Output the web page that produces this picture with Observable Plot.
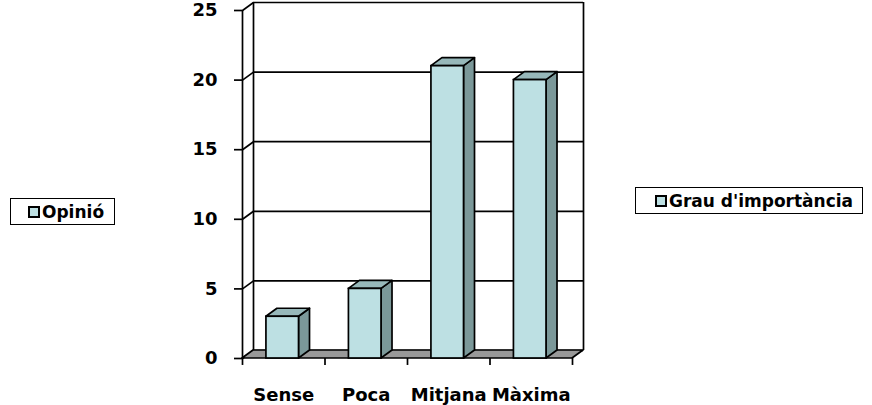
<!DOCTYPE html>
<html>
<head>
<meta charset="utf-8">
<script src="https://cdn.jsdelivr.net/npm/d3@7"></script>
<script src="https://cdn.jsdelivr.net/npm/@observablehq/plot@0.6"></script>
<style>
  html, body { margin: 0; padding: 0; background: #fff; }
  #wrap { position: relative; width: 872px; height: 405px; font-family: "DejaVu Sans", Verdana, sans-serif; }
  .legend { position: absolute; border: 1px solid #000; background: #fff; font-weight: bold; font-size: 17px;
            display: flex; align-items: center; box-sizing: border-box; white-space: nowrap; }
  .legend .sw { width: 8px; height: 8px; border: 2px solid #000; background: #bde0e3; margin-right: 2px; }
</style>
</head>
<body>
<div id="wrap"></div>
<script>
// ---- data ----
const categories = ["Sense", "Poca", "Mitjana", "Màxima"];
const values = [3, 5, 21, 20];
const yTicks = [0, 5, 10, 15, 20, 25];
const seriesName = "Grau d'importància";
const legendLeft = "Opinió";

// ---- 3D geometry (in data units) ----
const unitPx = 82.5;              // px per category
const pxPerY = 348 / 25;          // px per y unit
const dX = 11 / unitPx;           // depth offset x
const dY = 8 / pxPerY;            // depth offset y
const bL = -0.21, bR = 0.185;     // bar front face extent around category index

const bars = categories.map((c, i) => ({c, i, v: values[i], x1: i + bL, x2: i + bR}));
const sides = bars.flatMap(b => [
  {c: b.c, x: b.x2, y1: 0, y2: b.v},
  {c: b.c, x: b.x2 + dX, y1: dY, y2: b.v + dY}
]);
const tops = bars.flatMap(b => [
  {c: b.c, y: b.v, x1: b.x1, x2: b.x2},
  {c: b.c, y: b.v + dY, x1: b.x1 + dX, x2: b.x2 + dX}
]);
const floor = [
  {y: 0, x1: -0.5, x2: 3.5},
  {y: dY, x1: -0.5 + dX, x2: 3.5 + dX}
];
const xBounds = d3.range(categories.length + 1).map(k => k - 0.5);

const cFront = "#bde0e3", cTop = "#97b8ba", cSide = "#7b9899", cFloor = "#999999";
const sw = 1.7;

const chart = Plot.plot({
  width: 872,
  height: 405,
  marginLeft: 242,
  marginRight: 300,
  marginTop: 10,
  marginBottom: 47,
  x: {type: "linear", domain: [-0.5, 3.5], axis: null},
  y: {type: "linear", domain: [0, 25], axis: null},
  style: {fontFamily: "DejaVu Sans, Verdana, sans-serif", fontWeight: "bold", fontSize: "18px", color: "#000", background: "#fff"},
  marks: [
    // back wall gridlines
    Plot.ruleY(yTicks, {y: d => d + dY, x1: -0.5 + dX, x2: 3.5 + dX, stroke: "#000", strokeWidth: sw}),
    // back wall edges
    Plot.ruleX([-0.5 + dX, 3.5 + dX], {x: d => d, y1: dY, y2: 25 + dY, stroke: "#000", strokeWidth: sw}),
    // left wall diagonals
    Plot.link(yTicks, {x1: -0.5, y1: d => d, x2: -0.5 + dX, y2: d => d + dY, stroke: "#000", strokeWidth: sw}),
    // front axis line
    Plot.ruleX([-0.5], {y1: 0, y2: 25, stroke: "#000", strokeWidth: sw}),
    // y ticks
    Plot.ruleY(yTicks, {y: d => d, x1: -0.5 - 8 / unitPx, x2: -0.5, stroke: "#000", strokeWidth: sw}),
    // y labels
    Plot.text(yTicks, {x: -0.5, y: d => d, text: d => String(d), dx: -25, textAnchor: "end", fontSize: 18, fontWeight: "bold", fill: "#000"}),
    // floor
    Plot.areaX(floor, {y: "y", x1: "x1", x2: "x2", fill: cFloor, stroke: "#000", strokeWidth: sw, strokeLinejoin: "round"}),
    // x ticks
    Plot.ruleX(xBounds, {x: d => d, y1: 0, y2: -0.5, stroke: "#000", strokeWidth: sw}),
    // x labels
    Plot.text(bars, {x: "i", y: 0, text: "c", dy: 37, textAnchor: "middle", fontSize: 18, fontWeight: "bold", fill: "#000"}),
    // bar sides
    Plot.areaY(sides, {x: "x", y1: "y1", y2: "y2", z: "c", fill: cSide, stroke: "#000", strokeWidth: sw, strokeLinejoin: "round"}),
    // bar tops
    Plot.areaX(tops, {y: "y", x1: "x1", x2: "x2", z: "c", fill: cTop, stroke: "#000", strokeWidth: sw, strokeLinejoin: "round"}),
    // bar fronts
    Plot.rect(bars, {x1: "x1", x2: "x2", y1: 0, y2: "v", fill: cFront, stroke: "#000", strokeWidth: sw})
  ]
});

const wrap = document.getElementById("wrap");
chart.style.position = "absolute";
chart.style.left = "0px";
chart.style.top = "0px";
wrap.appendChild(chart);

function addLegend(text, left, top, width, height, padLeft) {
  const d = document.createElement("div");
  d.className = "legend";
  d.style.left = left + "px";
  d.style.top = top + "px";
  d.style.width = width + "px";
  d.style.height = height + "px";
  d.style.paddingLeft = padLeft + "px";
  const s = document.createElement("span");
  s.className = "sw";
  d.appendChild(s);
  const t = document.createElement("span");
  t.textContent = text;
  d.appendChild(t);
  wrap.appendChild(d);
}
addLegend(legendLeft, 10, 198, 105, 27, 17);
addLegend(seriesName, 635, 187, 228, 27, 19);
</script>
</body>
</html>
